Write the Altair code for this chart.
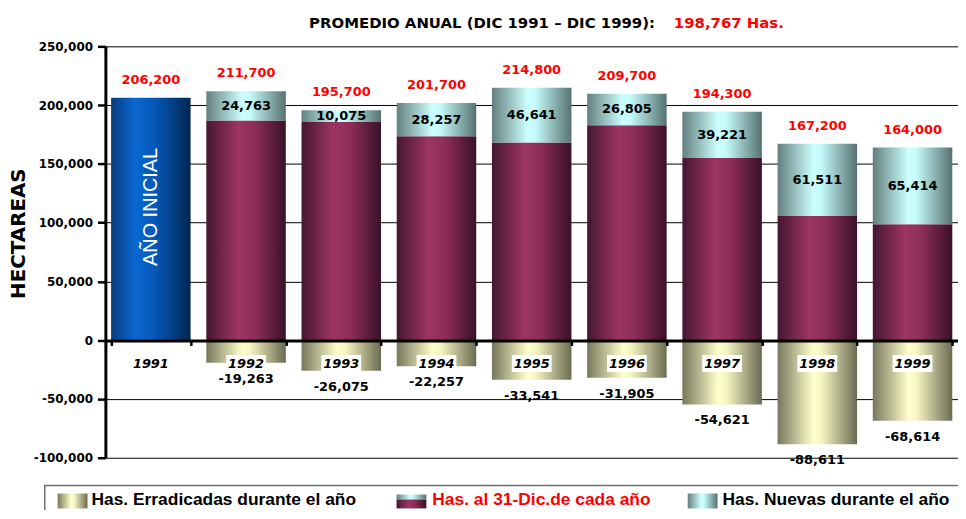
import altair as alt
import pandas as pd

# ---------------- data ----------------
years = ["1991", "1992", "1993", "1994", "1995", "1996", "1997", "1998", "1999"]
totales = [206200, 211700, 195700, 201700, 214800, 209700, 194300, 167200, 164000]
al_31_dic = [None, 186937, 185625, 173443, 168159, 182895, 155079, 105689, 98586]
nuevas = [None, 24763, 10075, 28257, 46641, 26805, 39221, 61511, 65414]
erradicadas = [None, -19263, -26075, -22257, -33541, -31905, -54621, -88611, -68614]
y_ticks = [-100000, -50000, 0, 50000, 100000, 150000, 200000, 250000]
y_domain = [-100000, 250000]
legend_labels = ["Has. Erradicadas durante el año", "Has. al 31-Dic.de cada año", "Has. Nuevas durante el año"]
title_text = "PROMEDIO ANUAL (DIC 1991 – DIC 1999):"
title_value = "198,767 Has."
initial_label = "AÑO INICIAL"
y_title = "HECTAREAS"

df = pd.DataFrame({
    "year": years,
    "total": totales,
    "base": al_31_dic,
    "nuevas": nuevas,
    "errad": erradicadas,
})


def grad(stops):
    return alt.LinearGradient(
        gradient="linear", x1=0, x2=1, y1=0, y2=0,
        stops=[alt.GradientStop(offset=o, color=c) for o, c in stops],
    )


blue_g = grad([(0, "#0a3c7e"), (0.3, "#0a68d0"), (0.55, "#0558b8"), (1, "#012650")])
maroon_g = grad([(0, "#451632"), (0.4, "#9c3563"), (0.6, "#8e2e5a"), (1, "#3a1128")])
cyan_g = grad([(0, "#647f7f"), (0.45, "#ccffff"), (0.55, "#c4fafa"), (1, "#577171")])
khaki_g = grad([(0, "#77775c"), (0.45, "#ffffcc"), (0.55, "#f6f6c4"), (1, "#6b6b52")])

BOLD = "DejaVu Sans"
FMT = "replace(format({v}, ','), '\u2212', '-')"

yscale = alt.Scale(domain=y_domain, nice=False, zero=False)
yaxis = alt.Axis(
    values=y_ticks, labelExpr=FMT.format(v="datum.value"),
    labelFont=BOLD, labelFontWeight="bold", labelFontSize=12,
    labelColor="black", labelPadding=5, labelFlush=False, labelOverlap=False,
    domainColor="black", domainWidth=3, tickColor="black", tickWidth=2.5, tickSize=8,
    grid=True, gridColor="black", gridWidth=1, gridOpacity=1,
    title=y_title, titleFont=BOLD, titleFontSize=20, titleFontWeight="bold", titleColor="black",
    titleAngle=270, titleX=-87, titleY=188, titleAlign="center", titleBaseline="middle",
)
xaxis = alt.Axis(
    orient="bottom", offset=-118, labels=False, title=None, grid=False,
    domainColor="black", domainWidth=3, tickColor="black", tickWidth=2.5, tickSize=5,
    tickBand="extent", zindex=1,
)
X = alt.X("year:N", scale=alt.Scale(paddingInner=0.165, paddingOuter=0.06), axis=xaxis, sort=years)


def Yf(field):
    return alt.Y(field, type="quantitative", scale=yscale, axis=yaxis, stack=None)


base = alt.Chart(df).encode(x=X)
rest = base.transform_filter("datum.year != '1991'")

blue = base.transform_filter("datum.year == '1991'").mark_bar(color=blue_g).encode(y=Yf("total"))
maroon = rest.mark_bar(color=maroon_g).encode(y=Yf("base"))
cyan = rest.mark_bar(color=cyan_g).encode(y=Yf("base"), y2="total:Q")
khaki = rest.mark_bar(color=khaki_g).encode(y=Yf("errad"))

year_box = rest.mark_bar(width=40, color="white").encode(
    y=alt.YDatum(-12600, scale=yscale, axis=yaxis), y2=alt.Y2Datum(-27000)
)
year_text = base.mark_text(
    font=BOLD, fontWeight="bold", fontStyle="italic", fontSize=13, color="black", baseline="middle"
).encode(y=alt.YDatum(-20000, scale=yscale, axis=yaxis), text="year:N")

top_text = base.transform_calculate(lbl=FMT.format(v="datum.total")).mark_text(
    font=BOLD, fontWeight="bold", fontSize=13, color="#ff0000", baseline="middle", dy=-18
).encode(y=Yf("total"), text="lbl:N")

new_text = rest.transform_calculate(
    mid="(datum.base + datum.total) / 2", lbl=FMT.format(v="datum.nuevas")
).mark_text(
    font=BOLD, fontWeight="bold", fontSize=13, color="black", baseline="middle"
).encode(y=Yf("mid"), text="lbl:N")

err_text = rest.transform_calculate(lbl=FMT.format(v="datum.errad")).mark_text(
    font=BOLD, fontWeight="bold", fontSize=13, color="black", baseline="middle", dy=16
).encode(y=Yf("errad"), text="lbl:N")

init_text = base.transform_filter("datum.year == '1991'").transform_calculate(
    pos="datum.total * 0.55"
).mark_text(
    font="Liberation Sans", fontSize=20, color="white", angle=270, baseline="middle", align="center"
).encode(y=Yf("pos"), text=alt.value(initial_label))

# ---------------- title & legend (decoration) ----------------
one = alt.Chart(pd.DataFrame({"a": [0]}))

title1 = one.mark_text(font=BOLD, fontWeight="bold", fontSize=15, color="black", align="left",
                       baseline="middle").encode(x=alt.value(205), y=alt.value(-23), text=alt.value(title_text))
title2 = one.mark_text(font=BOLD, fontWeight="bold", fontSize=15, color="#ff0000", align="left",
                       baseline="middle").encode(x=alt.value(572), y=alt.value(-23), text=alt.value(title_value))

leg_box = one.mark_rect(fill="white", stroke="#6f6f6f", strokeWidth=1.5).encode(
    x=alt.value(-61), x2=alt.value(900), y=alt.value(442), y2=alt.value(500))
sw1 = one.mark_rect(color=khaki_g).encode(x=alt.value(-48), x2=alt.value(-18), y=alt.value(450), y2=alt.value(465))
sw2a = one.mark_rect(color=cyan_g).encode(x=alt.value(293), x2=alt.value(323), y=alt.value(451), y2=alt.value(456))
sw2b = one.mark_rect(color=maroon_g).encode(x=alt.value(293), x2=alt.value(323), y=alt.value(456), y2=alt.value(465))
sw3 = one.mark_rect(color=cyan_g).encode(x=alt.value(586), x2=alt.value(616), y=alt.value(450), y2=alt.value(465))

leg_style = dict(font="Liberation Sans", fontWeight="bold", fontSize=17.5, align="left", baseline="middle")
lt1 = one.mark_text(color="black", **leg_style).encode(x=alt.value(-14), y=alt.value(457), text=alt.value(legend_labels[0]))
lt2 = one.mark_text(color="#ff0000", **leg_style).encode(x=alt.value(329), y=alt.value(457), text=alt.value(legend_labels[1]))
lt3 = one.mark_text(color="black", **leg_style).encode(x=alt.value(621), y=alt.value(457), text=alt.value(legend_labels[2]))

chart = alt.layer(
    blue, maroon, cyan, khaki, year_box, year_text, top_text, new_text, err_text, init_text,
    title1, title2, leg_box, sw1, sw2a, sw2b, sw3, lt1, lt2, lt3,
).properties(
    width=858, height=414,
    autosize=alt.AutoSizeParams(type="none"),
    padding={"left": 98, "top": 37, "right": 0, "bottom": 51},
    background="white",
).configure_view(stroke=None)

chart.save("out.html", embed_options={"renderer": "svg", "actions": False})
